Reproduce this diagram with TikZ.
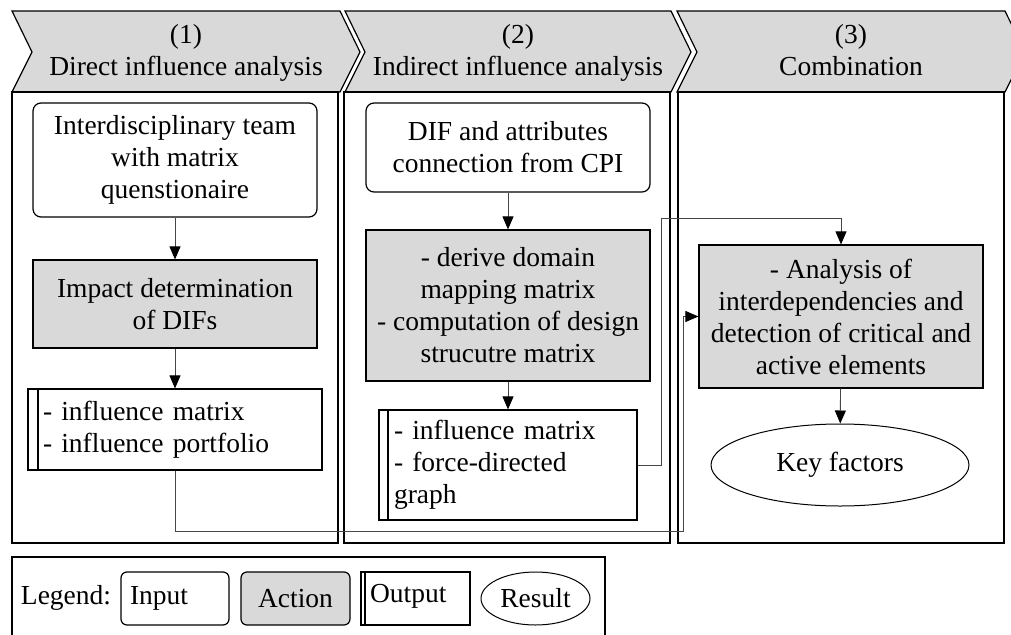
\documentclass[tikz,border=0pt]{standalone}
\usepackage{fontspec}
\setmainfont{Liberation Serif}
\usepackage{tikz}
\usetikzlibrary{arrows.meta,shapes.geometric}
\definecolor{actgray}{RGB}{217,217,217}
\definecolor{linkgray}{RGB}{70,70,70}
\tikzset{
  every node/.style={font=\fontsize{27.5}{32}\selectfont},
  panel/.style={draw,line width=1.2pt},
  stage/.style={draw,line width=1.2pt,fill=actgray},
  inbox/.style={draw,line width=1.2pt,rounded corners=8pt,align=center,minimum width=284pt,inner sep=0pt},
  actbox/.style={draw,line width=1.2pt,fill=actgray,rounded corners=#1,align=center,minimum width=284pt,inner sep=0pt},
  actbox/.default=0pt,
  outbox/.style={draw,line width=1.2pt,align=left,inner xsep=15pt,inner ysep=0pt,
    path picture={\draw[line width=1.2pt] ([xshift=#1]path picture bounding box.north west)
      -- ([xshift=#1]path picture bounding box.south west);}},
  resbox/.style={draw,line width=1pt,ellipse,inner sep=0pt},
  link/.style={draw=linkgray,line width=0.9pt,-{Triangle[length=13pt,width=11pt,color=black]}}
}
\begin{document}
\begin{tikzpicture}[x=1pt,y=-1pt]
\useasboundingbox (0,0) rectangle (1011,634);
% stage headers
\draw[stage] (12,11) -- (340,11) -- (360,52) -- (340,92) -- (12,92) -- (32,52) -- cycle;
\draw[stage] (345,11) -- (671,11) -- (691,52) -- (671,92) -- (345,92) -- (365,52) -- cycle;
\draw[stage] (677,11) -- (1005,11) -- (1025,52) -- (1005,92) -- (677,92) -- (697,52) -- cycle;
\node[align=center] (h1) at (186,53) {(1)\\Direct influence analysis};
\node[align=center] (h2) at (518,53) {(2)\\Indirect influence analysis};
\node[align=center] (h3) at (851,50) {(3)\\Combination};
% panels
\draw[panel] (12,92) rectangle (338,543);
\draw[panel] (344,92) rectangle (670,543);
\draw[panel] (678,92) rectangle (1004,543);
\draw[panel] (12,640) -- (12,557) -- (605,557) -- (605,640);
% column 1
\node[inbox,minimum height=114pt] (i1) at (175,160) {Interdisciplinary team\\with matrix\\quenstionaire};
\node[actbox,minimum height=88pt] (a1) at (175,304) {Impact determination\\of DIFs};
\node[outbox=10pt,text width=264pt,minimum width=294pt,minimum height=81pt] (o1) at (175,429.5)
  {- influence matrix\\- influence portfolio};
% column 2
\node[inbox,minimum height=89pt] (i2) at (508,147.5) {DIF and attributes\\connection from CPI};
\node[actbox,minimum height=151pt] (a2) at (508,305.5)
  {- derive domain\\mapping matrix\\- computation of design\\strucutre matrix};
\node[outbox=9pt,text width=228pt,minimum width=258pt,minimum height=110pt] (o2) at (508,465)
  {- influence matrix\\- force-directed\\graph};
% column 3
\node[actbox,minimum height=143pt] (a3) at (841,316.5)
  {- Analysis of\\interdependencies and\\detection of critical and\\active elements};
\node[resbox,minimum width=258pt,minimum height=82pt] (r3) at (840,465) {Key factors};
% connectors
\draw[link] (i1) -- (a1);
\draw[link] (a1) -- (o1);
\draw[link] (i2) -- (a2);
\draw[link] (a2) -- (o2);
\draw[link] (a3) -- (r3);
\coordinate (busA) at (683,531);
\coordinate (busB) at (661,218);
\draw[link] (o1.south) |- (busA) |- (a3.west);
\draw[link] (o2.east) -| (busB) -| (a3.north);
% legend
\node (lg) at (66,598) {Legend:};
\node[draw,line width=1.2pt,rounded corners=6pt,align=left,inner xsep=9pt,inner ysep=0pt,
  text width=90pt,minimum height=53pt] (lin) at (175,598.5) {Input};
\node[actbox=6pt,minimum width=109pt,minimum height=53pt] (lact) at (295.5,598.5) {Action};
\node[outbox=4pt,inner xsep=9pt,text width=91pt,text height=30pt,text depth=23pt] (lout) at (415.5,598.5) {Output};
\node[resbox,minimum width=109pt,minimum height=53pt] (lres) at (535.5,598.5) {Result};
\end{tikzpicture}
\end{document}
